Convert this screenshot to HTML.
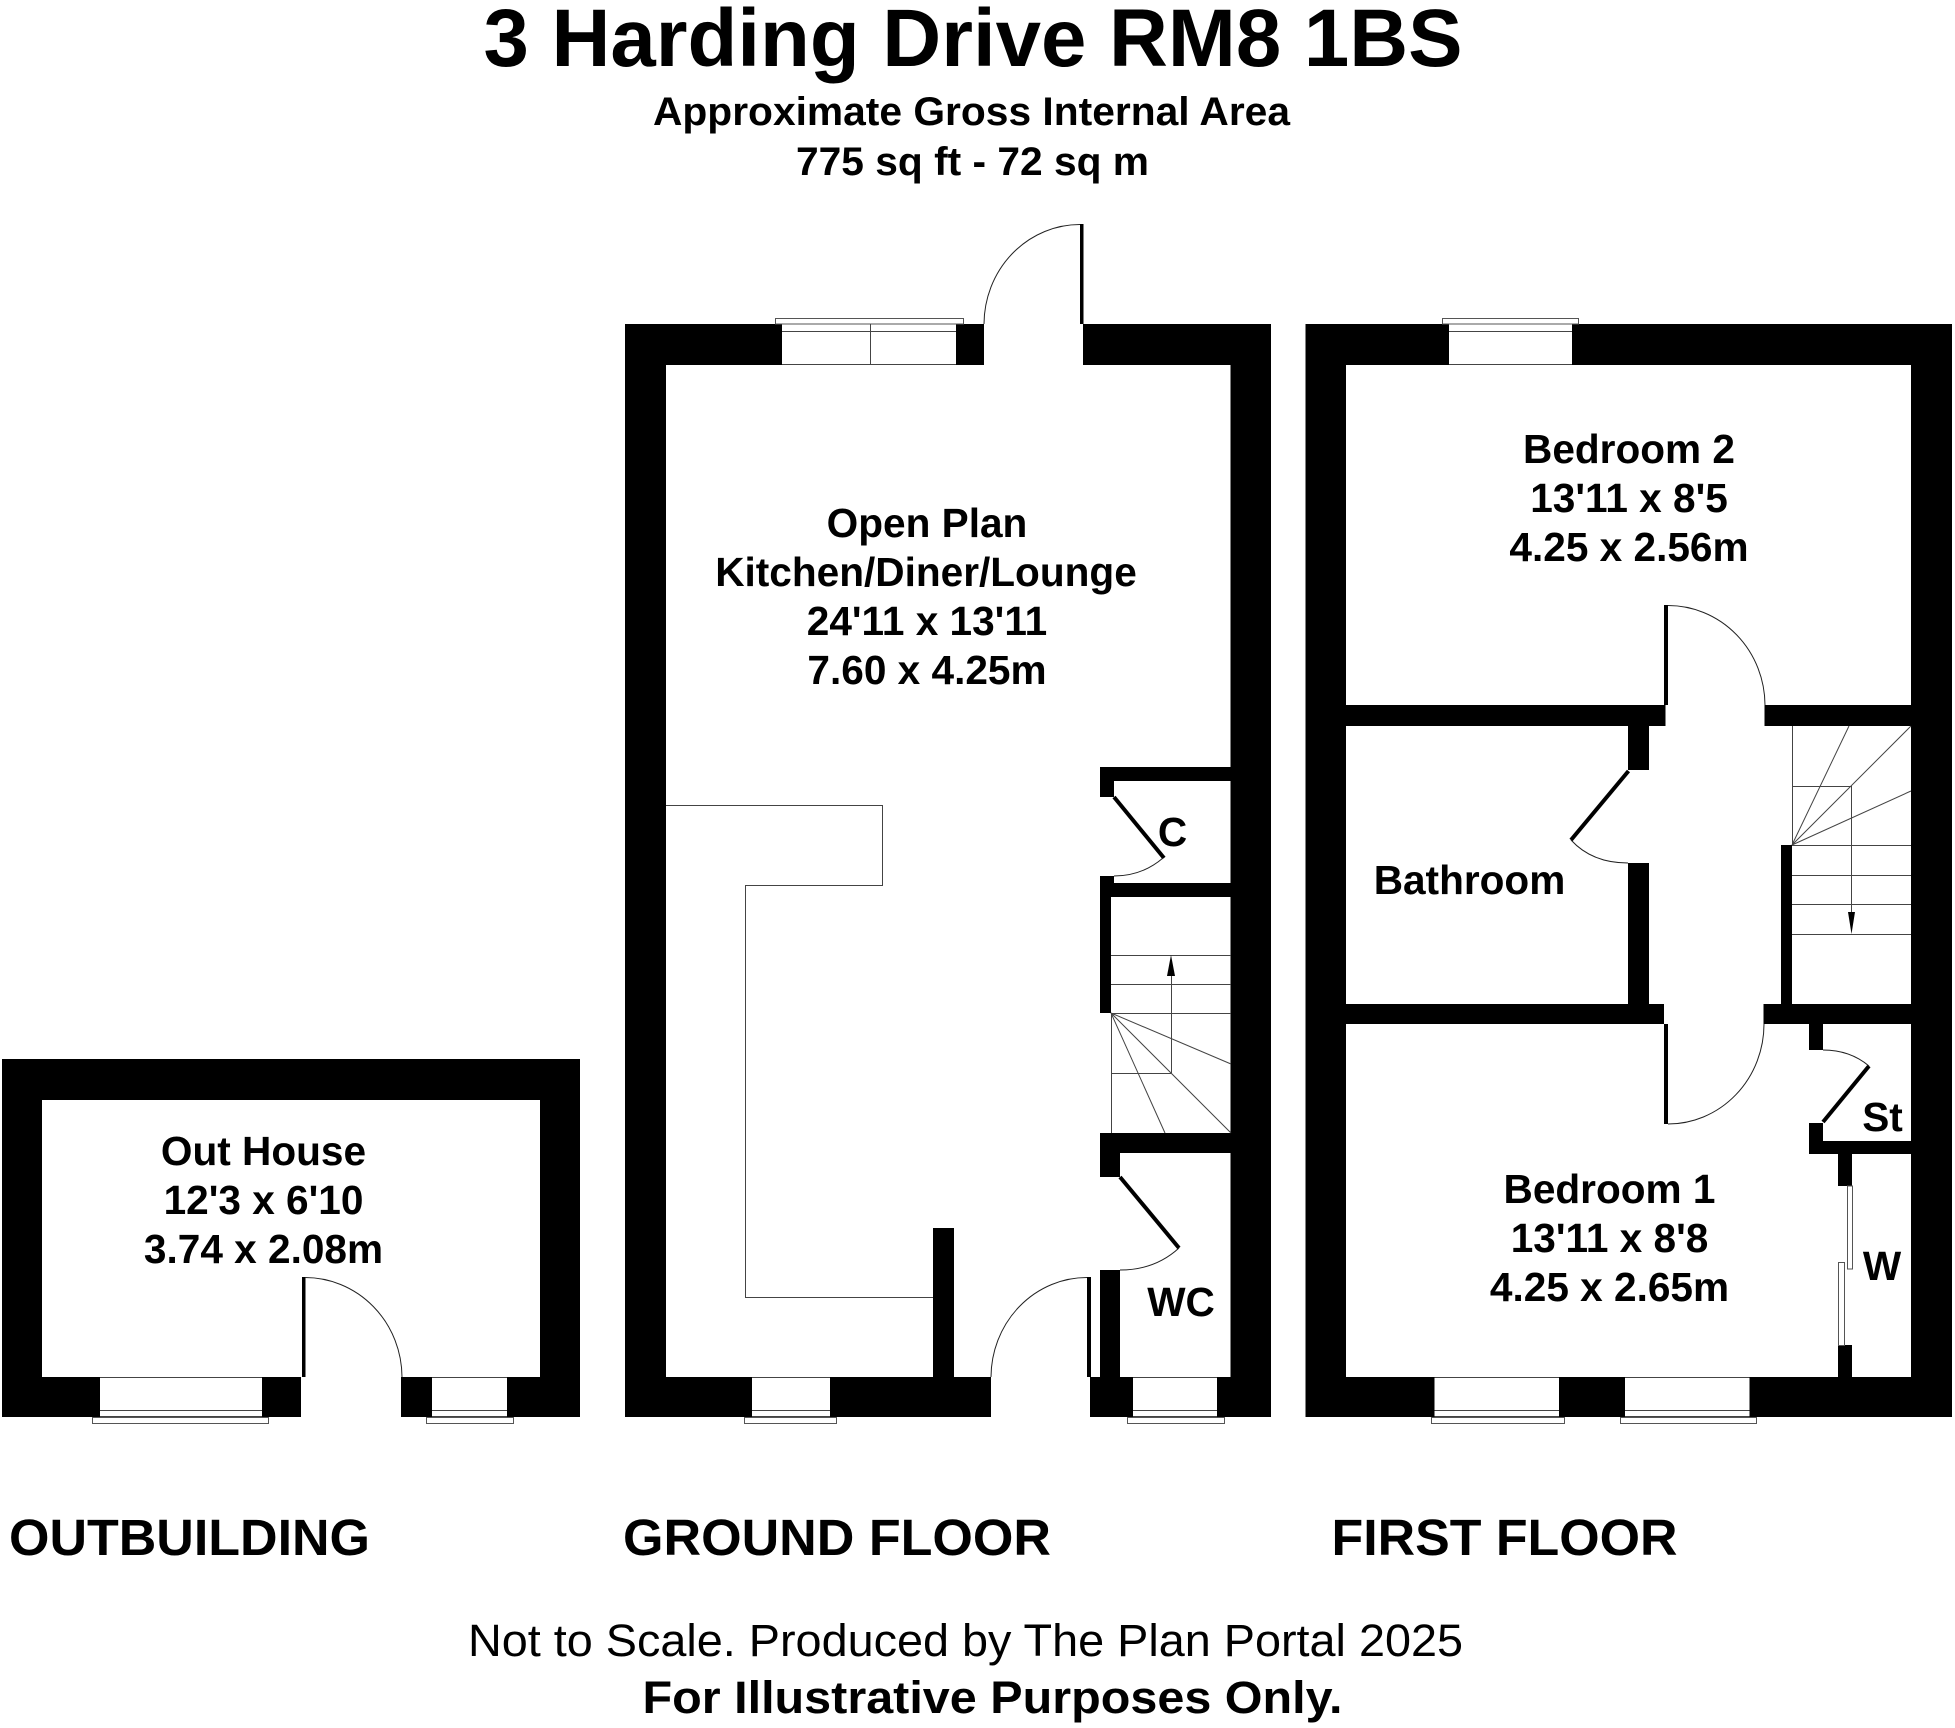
<!DOCTYPE html>
<html><head><meta charset="utf-8"><title>3 Harding Drive RM8 1BS</title>
<style>
html,body{margin:0;padding:0;background:#fff}
svg{display:block}
text{font-family:"Liberation Sans",Arial,sans-serif;font-weight:700;fill:#000}
.r{font-size:40.6px;text-anchor:middle}
.t{fill:none;stroke:#444;stroke-width:1}
.w{fill:#fff;stroke:#555;stroke-width:1}
.a{fill:none;stroke:#222;stroke-width:1}
</style></head><body>
<svg xmlns="http://www.w3.org/2000/svg" width="1955" height="1728" viewBox="0 0 1955 1728">
<rect width="1955" height="1728" fill="#fff"/>

<!-- Headings -->
<text x="483.5" y="66" font-size="81.5" textLength="979" lengthAdjust="spacingAndGlyphs">3 Harding Drive RM8 1BS</text>
<text x="653" y="125" font-size="40" textLength="637" lengthAdjust="spacingAndGlyphs">Approximate Gross Internal Area</text>
<text x="796" y="175" font-size="40" textLength="353" lengthAdjust="spacingAndGlyphs">775 sq ft - 72 sq m</text>
<text x="9" y="1555" font-size="51" textLength="361" lengthAdjust="spacingAndGlyphs">OUTBUILDING</text>
<text x="623" y="1555" font-size="51" textLength="428" lengthAdjust="spacingAndGlyphs">GROUND FLOOR</text>
<text x="1331.5" y="1555" font-size="51" textLength="346" lengthAdjust="spacingAndGlyphs">FIRST FLOOR</text>
<text x="468" y="1656" font-size="45" style="font-weight:400" textLength="995" lengthAdjust="spacingAndGlyphs">Not to Scale. Produced by The Plan Portal 2025</text>
<text x="642.5" y="1713" font-size="45" textLength="700" lengthAdjust="spacingAndGlyphs">For Illustrative Purposes Only.</text>

<!-- OUTBUILDING -->
<g fill="#000">
<rect x="2" y="1059" width="578" height="41"/>
<rect x="2" y="1059" width="40" height="358"/>
<rect x="540" y="1059" width="40" height="358"/>
<rect x="2" y="1377" width="98" height="40"/>
<rect x="262" y="1377" width="39" height="40"/>
<rect x="401" y="1377" width="31" height="40"/>
<rect x="507" y="1377" width="73" height="40"/>
<rect x="302" y="1277" width="3.5" height="100"/>
</g>
<rect class="w" x="92.5" y="1417.5" width="176" height="6"/>
<path class="t" d="M100 1377.5H262M100 1410.5H262M100 1416.5H262"/>
<rect class="w" x="426.5" y="1417.5" width="87" height="6"/>
<path class="t" d="M432 1377.5H507M432 1410.5H507M432 1416.5H507"/>
<path class="a" d="M305 1277.5A97 100 0 0 1 402 1377"/>
<text class="r" x="263.5" y="1165">Out House</text>
<text class="r" x="263.5" y="1214">12'3 x 6'10</text>
<text class="r" x="263.5" y="1263">3.74 x 2.08m</text>

<!-- GROUND FLOOR -->
<g fill="#000">
<rect x="625" y="324" width="157" height="41"/>
<rect x="956" y="324" width="28" height="41"/>
<rect x="1083" y="324" width="188" height="41"/>
<rect x="625" y="324" width="41" height="1093"/>
<rect x="1230.5" y="324" width="40.5" height="1093"/>
<rect x="625" y="1377" width="127" height="40"/>
<rect x="830" y="1377" width="161" height="40"/>
<rect x="1090" y="1377" width="43" height="40"/>
<rect x="1217" y="1377" width="54" height="40"/>
<rect x="933" y="1228" width="21" height="150"/>
<rect x="1080" y="224" width="3.5" height="100"/>
<rect x="1087" y="1277" width="4" height="100"/>
<!-- cupboard -->
<rect x="1100" y="767" width="131" height="14"/>
<rect x="1100" y="767" width="14" height="30"/>
<rect x="1100" y="876" width="14" height="21"/>
<rect x="1100" y="883" width="131" height="14"/>
<rect x="1100" y="883" width="11" height="130"/>
<!-- WC -->
<rect x="1100" y="1133" width="131" height="20"/>
<rect x="1100" y="1133" width="20" height="44"/>
<rect x="1100" y="1270" width="20" height="108"/>
</g>
<rect class="w" x="775.5" y="318.5" width="188" height="5.5"/>
<path class="t" d="M782 331.5H956M782 364.5H956M870.5 324V365"/>
<rect class="w" x="744.5" y="1417.5" width="92" height="6"/>
<path class="t" d="M752 1377.5H830M752 1410.5H830M752 1416.5H830"/>
<rect class="w" x="1127.5" y="1417.5" width="97" height="6"/>
<path class="t" d="M1133 1377.5H1217M1133 1410.5H1217M1133 1416.5H1217"/>
<path class="a" d="M1080 224.5A96 100 0 0 0 984 324"/>
<path class="a" d="M1087 1277.5A96 100 0 0 0 991 1377"/>
<!-- door leaves -->
<path d="M1114 797L1164 858" stroke="#000" stroke-width="4" fill="none"/>
<path d="M1120 1177L1179 1248" stroke="#000" stroke-width="4" fill="none"/>
<path class="a" d="M1163 858Q1142 876 1114 876"/>
<path class="a" d="M1179 1248Q1155 1270 1120 1270"/>
<!-- counter -->
<path class="t" d="M666 805.5H882.5V885.5H745.5V1297.5H933" stroke-width="1.2"/>
<!-- stairs -->
<path class="t" d="M1111 955.5H1231M1111 984.5H1231M1111 1013.5H1231M1111.5 1013V1133M1111 1013L1231 1064M1111 1013L1231 1133M1111 1013L1165 1133M1111 1073.5H1171M1171.5 1073V960"/>
<path d="M1171 955L1175 976H1167Z" fill="#000"/>
<text class="r" x="927" y="537">Open Plan</text>
<text class="r" x="926" y="586">Kitchen/Diner/Lounge</text>
<text class="r" x="927" y="635">24'11 x 13'11</text>
<text class="r" x="927" y="684">7.60 x 4.25m</text>
<text class="r" x="1172.5" y="846">C</text>
<text class="r" x="1181" y="1316">WC</text>

<!-- FIRST FLOOR -->
<g fill="#000">
<rect x="1305.5" y="324" width="143.5" height="41"/>
<rect x="1572" y="324" width="380" height="41"/>
<rect x="1305.5" y="324" width="40.5" height="1093"/>
<rect x="1911" y="324" width="41" height="1093"/>
<rect x="1305.5" y="1377" width="129" height="40"/>
<rect x="1559" y="1377" width="66" height="40"/>
<rect x="1749.5" y="1377" width="202.5" height="40"/>
<rect x="1346" y="705" width="319.5" height="21"/>
<rect x="1764.5" y="705" width="147" height="21"/>
<rect x="1628" y="726" width="21" height="44"/>
<rect x="1628" y="863" width="21" height="141"/>
<rect x="1781" y="845" width="11" height="160"/>
<rect x="1346" y="1004" width="318" height="20"/>
<rect x="1763.5" y="1004" width="148" height="20"/>
<rect x="1664" y="605" width="4" height="100"/>
<rect x="1664" y="1024" width="4" height="100"/>
<!-- store -->
<rect x="1809" y="1024" width="14" height="26"/>
<rect x="1809" y="1123" width="14" height="31"/>
<rect x="1809" y="1141" width="103" height="13"/>
<!-- wardrobe -->
<rect x="1838" y="1154" width="14" height="32"/>
<rect x="1838" y="1345" width="14" height="32"/>
</g>
<rect class="w" x="1442.5" y="318.5" width="136" height="5.5"/>
<path class="t" d="M1449 331.5H1572M1449 364.5H1572"/>
<rect class="w" x="1431.5" y="1417.5" width="133" height="6"/>
<path class="t" d="M1434.5 1377.5H1559M1434.5 1410.5H1559M1434.5 1416.5H1559"/>
<rect class="w" x="1620.5" y="1417.5" width="136" height="6"/>
<path class="t" d="M1625 1377.5H1749.5M1625 1410.5H1749.5M1625 1416.5H1749.5"/>
<rect class="w" x="1847.5" y="1186" width="5" height="83"/>
<rect class="w" x="1838.5" y="1262.5" width="6" height="83"/>
<path class="a" d="M1668 605.5A97 100 0 0 1 1765 705"/>
<path class="a" d="M1668 1124A96 100 0 0 0 1764 1024"/>
<path d="M1628.5 771L1571 840" stroke="#000" stroke-width="4" fill="none"/>
<path class="a" d="M1571 840Q1592 863 1628 863"/>
<path d="M1823 1122L1869 1066" stroke="#000" stroke-width="4" fill="none"/>
<path class="a" d="M1869 1066Q1850 1050 1823 1050"/>
<!-- stairs -->
<path class="t" d="M1792.5 726V845M1792 845.5H1911M1792 875.5H1911M1792 904.5H1911M1792 934.5H1911M1792 786.5H1851.5M1851.5 786V930M1792 845L1849 726M1792 845L1911 726M1792 845L1911 791"/>
<path d="M1851.5 934L1848 912H1855Z" fill="#000"/>
<text class="r" x="1629" y="463">Bedroom 2</text>
<text class="r" x="1629" y="512">13'11 x 8'5</text>
<text class="r" x="1629" y="561">4.25 x 2.56m</text>
<text class="r" x="1469.5" y="894">Bathroom</text>
<text class="r" x="1609.5" y="1203">Bedroom 1</text>
<text class="r" x="1609.5" y="1252">13'11 x 8'8</text>
<text class="r" x="1609.5" y="1301">4.25 x 2.65m</text>
<text class="r" x="1882.5" y="1131">St</text>
<text class="r" x="1882" y="1280">W</text>
</svg>
</body></html>
